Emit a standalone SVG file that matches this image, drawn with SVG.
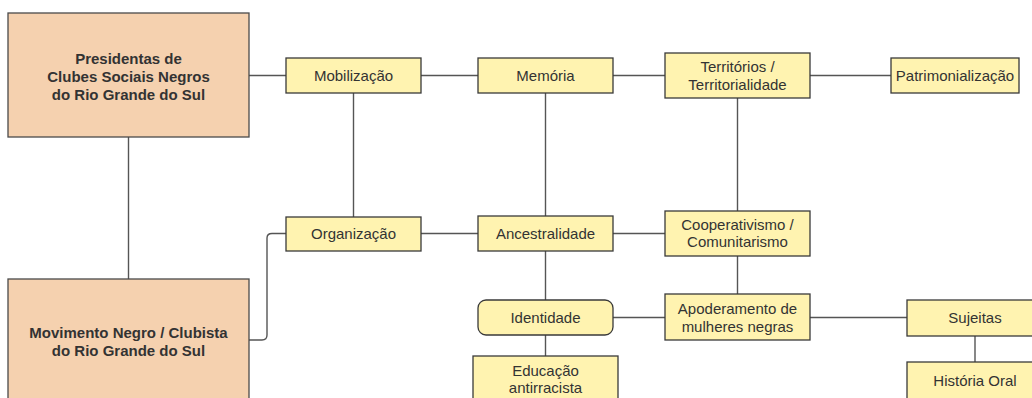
<svg xmlns="http://www.w3.org/2000/svg" width="1032" height="398" viewBox="0 0 1032 398">
<style>
.big{fill:#F5D1AF;stroke:#4a4a4a;stroke-width:1.3}
.n{fill:#FFF3B0;stroke:#3a3a3a;stroke-width:1.3}
.bt{font-family:"Liberation Sans",Arial,sans-serif;font-size:15px;font-weight:bold;fill:#333;text-anchor:middle}
.t{font-family:"Liberation Sans",Arial,sans-serif;font-size:15px;fill:#333;text-anchor:middle}
.c{fill:none;stroke:#555;stroke-width:1.4}
</style>
<rect width="1032" height="398" fill="#fff"/>
<g id="connectors">
<path class="c" d="M249,75.5H286"/>
<path class="c" d="M421,75.5H478"/>
<path class="c" d="M613,75.5H665"/>
<path class="c" d="M810,75.5H891"/>
<path class="c" d="M128.5,137V279"/>
<path class="c" d="M353.5,93V217"/>
<path class="c" d="M545.5,93V216"/>
<path class="c" d="M737.5,98V211"/>
<path class="c" d="M249,340H262Q267,340 267,335V238Q267,233.5 272,233.5H286"/>
<path class="c" d="M421,233.5H478"/>
<path class="c" d="M613,233.5H665"/>
<path class="c" d="M545.5,251V300"/>
<path class="c" d="M545.5,335V356"/>
<path class="c" d="M613,317.5H665"/>
<path class="c" d="M737.5,256V294"/>
<path class="c" d="M810,317.5H907"/>
<path class="c" d="M975,336V362"/>
</g>
<g id="presidentas">
<rect class="big" x="8" y="13" width="241" height="124"/>
<text class="bt" x="128.5" y="64">Presidentas de</text>
<text class="bt" x="128.5" y="82">Clubes Sociais Negros</text>
<text class="bt" x="128.5" y="99.5">do Rio Grande do Sul</text>
</g>
<g id="movimento">
<rect class="big" x="8" y="279" width="241" height="130"/>
<text class="bt" x="128.5" y="338">Movimento Negro / Clubista</text>
<text class="bt" x="128.5" y="356">do Rio Grande do Sul</text>
</g>
<g id="mobilizacao">
<rect class="n" x="286" y="58" width="135" height="35"/>
<text class="t" x="353.5" y="80.5">Mobilização</text>
</g>
<g id="memoria">
<rect class="n" x="478" y="58" width="135" height="35"/>
<text class="t" x="545.5" y="80.5">Memória</text>
</g>
<g id="territorios">
<rect class="n" x="665" y="53" width="145" height="45"/>
<text class="t" x="737.5" y="72">Territórios /</text>
<text class="t" x="737.5" y="89.5">Territorialidade</text>
</g>
<g id="patrimonializacao">
<rect class="n" x="891" y="58" width="128" height="35"/>
<text class="t" x="955" y="80.5">Patrimonialização</text>
</g>
<g id="organizacao">
<rect class="n" x="286" y="217" width="135" height="34"/>
<text class="t" x="353.5" y="238.5">Organização</text>
</g>
<g id="ancestralidade">
<rect class="n" x="478" y="216" width="135" height="35"/>
<text class="t" x="545.5" y="238.5">Ancestralidade</text>
</g>
<g id="cooperativismo">
<rect class="n" x="665" y="211" width="145" height="45"/>
<text class="t" x="737.5" y="229.5">Cooperativismo /</text>
<text class="t" x="737.5" y="247">Comunitarismo</text>
</g>
<g id="identidade">
<rect class="n" x="478" y="300" width="135" height="35" rx="8" ry="8"/>
<text class="t" x="545.5" y="322.5">Identidade</text>
</g>
<g id="apoderamento">
<rect class="n" x="665" y="294" width="145" height="46"/>
<text class="t" x="737.5" y="314">Apoderamento de</text>
<text class="t" x="737.5" y="331.5">mulheres negras</text>
</g>
<g id="sujeitas">
<rect class="n" x="907" y="300" width="136" height="36"/>
<text class="t" x="975" y="323">Sujeitas</text>
</g>
<g id="educacao">
<rect class="n" x="473" y="356" width="145" height="50"/>
<text class="t" x="545.5" y="376">Educação</text>
<text class="t" x="545.5" y="393">antirracista</text>
</g>
<g id="historia">
<rect class="n" x="907" y="362" width="136" height="45"/>
<text class="t" x="975" y="385.5">História Oral</text>
</g>
</svg>
